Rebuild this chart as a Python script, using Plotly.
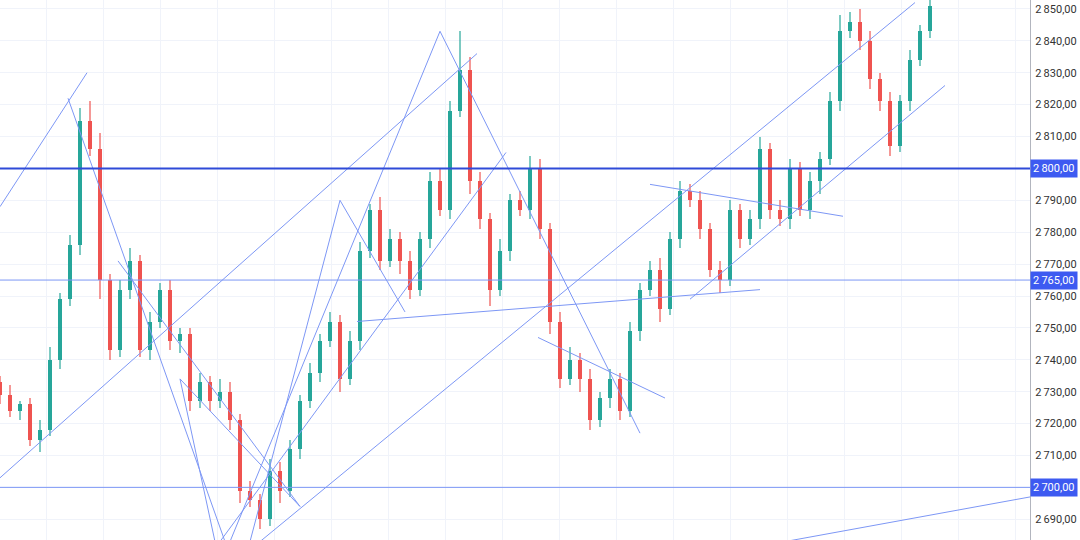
import plotly.graph_objects as go

# closes (one candle every ~10px)
closes = [2729,2724,2726,2715,2718,2740,2759,2776,2815,2806,2765,2743,2762,2771,2743,2752,2762,2746,2748,2727,
          2733,2727,2730,2721,2699,2696,2690,2705,2699,2712,2727,2736,2746,2752,2734,2746,2774,2787,2771,2778,
          2771,2762,2778,2796,2787,2818,2831,2796,2784,2762,2774,2790,2787,2800,2781,2752,2734,2740,2734,2721,
          2728,2734,2724,2749,2762,2768,2756,2778,2793,2790,2781,2768,2765,2787,2778,2784,2806,2787,2784,2800,
          2787,2796,2803,2821,2843,2846,2840,2828,2821,2807,2821,2834,2843,2851]
wick_up = [2,3,1,2,3,4,2,3,4,6,5,2,3,4,2,3,2,3,2,2,
           3,2,4,3,2,3,2,4,3,3,2,3,2,3,2,3,3,2,4,3,
           2,3,2,3,4,3,12,4,3,2,4,2,3,4,3,2,3,4,2,3,
           2,3,2,3,2,3,4,2,3,2,3,2,3,3,2,3,4,2,3,3,
           2,3,2,3,5,3,4,3,2,3,2,3,2,2]
wick_dn = [3,2,3,2,4,2,3,2,3,2,6,3,2,3,2,3,2,3,4,3,
           2,3,2,3,4,2,3,2,4,2,3,2,3,2,4,2,3,2,3,2,
           4,3,2,3,2,3,2,4,3,5,2,3,2,3,3,4,3,2,4,3,
           2,3,3,2,3,2,4,2,3,2,3,2,4,2,3,2,3,3,2,3,
           2,3,4,2,3,2,3,3,3,3,2,3,2,2]
opens = [2733] + closes[:-1]
highs = [max(o, c) + w for o, c, w in zip(opens, closes, wick_up)]
lows = [min(o, c) - w for o, c, w in zip(opens, closes, wick_dn)]
idx = list(range(len(closes)))
colors = ["#26a69a" if c >= o else "#ef5350" for o, c in zip(opens, closes)]

# trendlines as (x0, price0, x1, price1) in candle index units
trend_lines = [
    (0, 2788, 8.7, 2830), (6.8, 2822, 22.5, 2683), (11.8, 2771, 30, 2694),
    (18, 2734, 30, 2694), (18, 2734, 21.5, 2683), (0, 2703, 47.7, 2836),
    (22, 2683, 50.6, 2805), (23, 2683, 44, 2843), (25, 2683, 34, 2790),
    (34, 2790, 40.5, 2755), (44, 2843, 64, 2717), (26, 2683, 91.5, 2852),
    (69, 2759, 94.5, 2826), (35.7, 2752, 76, 2762), (65, 2795, 84.3, 2785),
    (53.8, 2747, 66.5, 2728), (78.5, 2683, 103, 2697),
]
hlines = [(2800, 2, "#2f4bd8"), (2765, 1, "#7d97f5"), (2700, 1, "#7d97f5")]
grid_vals = list(range(2690, 2851, 10))
tick_vals = [v for v in grid_vals if v not in (2800, 2700)]
fmt = lambda v: f"{v//1000}\u2009{v%1000:03d},00"
tick_text = [fmt(v) for v in tick_vals]

fig = go.Figure()
fig.add_trace(go.Bar(x=idx, y=[h - l for h, l in zip(highs, lows)], base=lows, width=0.12,
                     marker=dict(color=colors, opacity=0.6, line=dict(width=0)), showlegend=False, hoverinfo="skip"))
fig.add_trace(go.Bar(x=idx, y=[max(abs(c - o), 0.4) for o, c in zip(opens, closes)],
                     base=[min(o, c) for o, c in zip(opens, closes)], width=0.45,
                     marker=dict(color=colors, line=dict(width=0)), showlegend=False))

for v in (2800, 2700):
    fig.add_shape(type="line", xref="paper", x0=0, x1=1, y0=v, y1=v, layer="below",
                  line=dict(color="#f0f3fa", width=1))
for x0, y0, x1, y1 in trend_lines:
    fig.add_shape(type="line", x0=x0, y0=y0, x1=x1, y1=y1,
                  line=dict(color="#7d97f5", width=1))
for y, w, c in hlines:
    fig.add_shape(type="line", xref="paper", x0=0, x1=1, y0=y, y1=y, line=dict(color=c, width=w))
    fig.add_annotation(xref="paper", x=1.0, y=y, xanchor="left", text=fmt(y),
                       showarrow=False, bgcolor="#3d5af1", font=dict(color="white", size=11, family="Roboto"),
                       borderpad=2)

fig.update_layout(
    width=1080, height=540, margin=dict(l=0, r=50, t=0, b=0, autoexpand=False),
    plot_bgcolor="white", paper_bgcolor="white", barmode="overlay", bargap=0,
    xaxis=dict(range=[0, 103], showticklabels=False, showgrid=True, gridcolor="#f0f3fa",
               dtick=5.7, tick0=10.3, zeroline=False, fixedrange=True),
    yaxis=dict(range=[2683.5, 2852.8], side="right", tickvals=tick_vals, ticktext=tick_text,
               showgrid=True, gridcolor="#f0f3fa", zeroline=False, showline=True, linecolor="#b2b5be",
               tickfont=dict(size=11, color="#333", family="Roboto"), ticks="", automargin=False,
               ticklabelstandoff=2),
)
fig.write_html("out.html", config={"displayModeBar": False})
with open("out.html", encoding="utf-8") as f:
    html = f.read()
html = html.replace("<head>", "<head><style>html,body{margin:0;padding:0;overflow:hidden}</style>", 1)
with open("out.html", "w", encoding="utf-8") as f:
    f.write(html)
